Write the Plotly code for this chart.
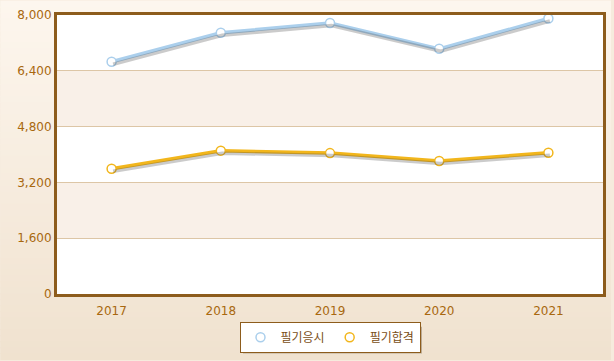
import plotly.graph_objects as go

years = ["2017", "2018", "2019", "2020", "2021"]
applicants = [6660, 7490, 7770, 7030, 7900]   # 필기응시
passed = [3590, 4110, 4040, 3815, 4050]       # 필기합격
series_names = ["필기응시", "필기합격"]
series_colors = ["#abcfec", "#f2b61c"]
y_ticks = [0, 1600, 3200, 4800, 6400, 8000]

W, H = 614, 361
ML, MR, MT, MB = 57, 8, 14, 66
pw, ph = W - ML - MR, H - MT - MB

fig = go.Figure()

# shadow traces on shifted overlay axes (offset by ~2px down/right)
px_x = 5 / pw          # category units per pixel
px_y = 8000 / ph       # data units per pixel
for vals in (applicants, passed):
    fig.add_trace(go.Scatter(x=list(range(len(years))), y=vals, mode="lines",
                             line=dict(color="rgba(70,70,70,0.28)", width=3.5),
                             xaxis="x2", yaxis="y2", showlegend=False, hoverinfo="skip"))

for vals, name, col in zip((applicants, passed), series_names, series_colors):
    fig.add_trace(go.Scatter(x=years, y=vals, mode="lines+markers", name=name,
                             line=dict(color=col, width=3.5),
                             marker=dict(size=9, color="white", line=dict(color=col, width=1.5)),
                             showlegend=False))
    fig.add_trace(go.Scatter(x=[None], y=[None], mode="markers", name=name,
                             marker=dict(size=9, color="white", line=dict(color=col, width=1.5))))

shapes = []
# paper gradient background
n = 60
y0p = -(MB) / ph
y1p = (MT + ph) / ph
x0p, x1p = -ML / pw, (pw + MR) / pw
c0 = (253, 246, 238)
c1 = (240, 226, 207)
for i in range(n):
    t = i / (n - 1)
    c = tuple(round(c0[k] + (c1[k] - c0[k]) * t) for k in range(3))
    ya = y1p - (y1p - y0p) * i / n
    yb = y1p - (y1p - y0p) * (i + 1) / n
    shapes.append(dict(type="rect", xref="paper", yref="paper", x0=x0p, x1=x1p,
                       y0=yb - 0.002, y1=ya + 0.002, fillcolor="rgb(%d,%d,%d)" % c,
                       line=dict(width=0), layer="below"))
# legend shadow
shapes.append(dict(type="rect", xref="paper", yref="paper",
                   x0=(244 - ML) / pw, x1=(424 - ML) / pw,
                   y0=(MT + ph - 355) / ph, y1=(MT + ph - 328) / ph,
                   fillcolor="rgba(90,70,40,0.35)", line=dict(width=0), layer="below"))
# plot-area white background and alternate bands (subplot layer)
shapes.append(dict(type="rect", xref="x domain", yref="y domain", x0=0, x1=1, y0=0, y1=1,
                   fillcolor="white", line=dict(width=0), layer="below"))
for a, b in [(1600, 3200), (4800, 6400)]:
    shapes.append(dict(type="rect", xref="x domain", yref="y", x0=0, x1=1, y0=a, y1=b,
                       fillcolor="#f9f0e8", line=dict(width=0), layer="below"))

axis_col = "#8d5c1c"
tick_font = dict(family="DejaVu Sans, Verdana, sans-serif", size=12, color="#a8680f")

fig.update_layout(
    width=W, height=H,
    margin=dict(l=ML, r=MR, t=MT, b=MB, pad=0),
    paper_bgcolor="#f6ebdd",
    plot_bgcolor="white",
    shapes=shapes,
    xaxis=dict(type="category", range=[-0.5, 4.5], showline=True, mirror=True,
               linecolor=axis_col, linewidth=3, showgrid=False, ticks="",
               tickfont=tick_font, fixedrange=True, ticklabelstandoff=4),
    yaxis=dict(range=[0, 8000], tickvals=y_ticks, tickformat=",", showline=True, mirror=True,
               linecolor=axis_col, linewidth=3, gridcolor="#ddc6a6", gridwidth=1,
               ticks="", tickfont=tick_font, zeroline=False, fixedrange=True),
    xaxis2=dict(overlaying="x", range=[-0.5 - 1.5 * px_x, 4.5 - 1.5 * px_x], visible=False),
    yaxis2=dict(overlaying="y", range=[2.5 * px_y, 8000 + 2.5 * px_y], visible=False),
    legend=dict(orientation="h", x=0.5, xanchor="center", y=(MT + ph - 323) / ph, yanchor="top",
                bgcolor="white", bordercolor="#8d5c1c", borderwidth=1,
                font=dict(family="Noto Sans CJK KR, sans-serif", size=12, color="#7a4e16"),
                itemwidth=30, tracegroupgap=0),
    showlegend=True,
    hovermode=False,
)

fig.write_html("out.html", config={"displayModeBar": False},
               post_script="document.body.style.margin='0';")
